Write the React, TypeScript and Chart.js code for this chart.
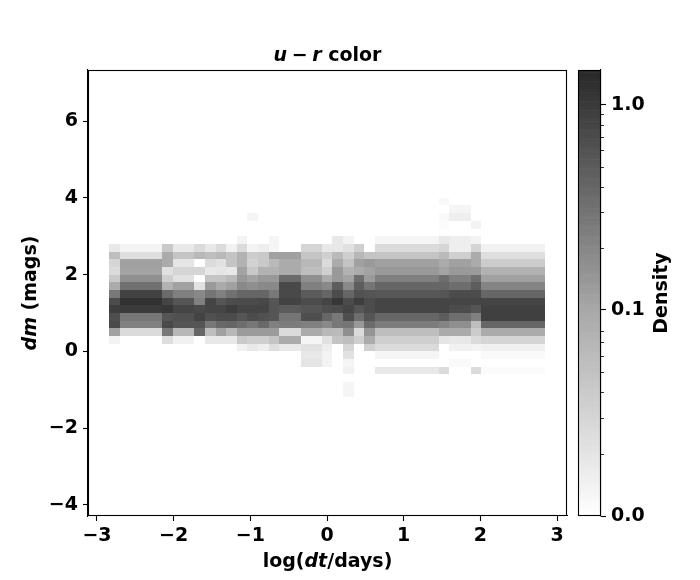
import React, { useEffect, useRef } from "react";
import { Chart, registerables } from "chart.js";

Chart.register(...registerables);

// log(dt/days) bin edges of the density columns
const X_EDGES = [-2.843, -2.7, -2.152, -2.009, -1.735, -1.591, -1.448, -1.317, -1.174, -1.044, -0.9, -0.757, -0.626, -0.339, -0.065, 0.065, 0.209, 0.352, 0.482, 0.626, 1.461, 1.591, 1.878, 2.009, 2.843];
// dm (mags) bin edges, top to bottom
const Y_EDGES = [4.0, 3.8, 3.6, 3.4, 3.2, 3.0, 2.8, 2.6, 2.4, 2.2, 2.0, 1.8, 1.6, 1.4, 1.2, 1.0, 0.8, 0.6, 0.4, 0.2, 0.0, -0.2, -0.4, -0.6, -0.8, -1.0, -1.2];

const X_TICKS = [-3, -2, -1, 0, 1, 2, 3];
const Y_TICKS = [-4, -2, 0, 2, 4, 6];
const CB_TICKS = [0.0, 0.1, 1.0];
const CB_MINOR = [0.03, 0.0474, 0.06, 0.0697, 0.0777, 0.0846, 0.09, 0.2, 0.3, 0.4, 0.5, 0.6, 0.7, 0.8, 0.9];

// density per column (rows from dm = 4.0 down to -1.2)
const COL_01 = [0, 0, 0, 0, 0, 0, 0.027, 0.075, 0.048, 0.041, 0.062, 0.096, 0.275, 0.687, 0.957, 0.665, 0.733, 0.116, 0.014, 0, 0, 0, 0, 0, 0, 0];
const COL_02 = [0, 0, 0, 0, 0, 0, 0.014, 0.038, 0.116, 0.11, 0.169, 0.318, 0.845, 1.19, 1.0, 0.275, 0.232, 0.041, 0, 0, 0, 0, 0, 0, 0, 0];
const COL_03 = [0, 0, 0, 0, 0, 0, 0.062, 0.096, 0.096, 0.034, 0.055, 0.089, 0.361, 0.8, 1.07, 0.577, 0.733, 0.275, 0.038, 0, 0, 0, 0, 0, 0, 0];
const COL_04 = [0, 0, 0, 0, 0, 0, 0.027, 0.068, 0.03, 0.048, 0.034, 0.116, 0.232, 0.577, 0.8, 0.62, 0.577, 0.082, 0.016, 0, 0, 0, 0, 0, 0, 0];
const COL_05 = [0, 0, 0, 0, 0, 0, 0.041, 0.082, 0, 0.048, 0, 0.034, 0.192, 0.232, 0.733, 0.845, 0.577, 0.4, 0, 0, 0, 0, 0, 0, 0, 0];
const COL_06 = [0, 0, 0, 0, 0, 0, 0.027, 0.075, 0.041, 0.027, 0.068, 0.132, 0.295, 0.8, 0.8, 0.62, 0.275, 0.075, 0.027, 0, 0, 0, 0, 0, 0, 0];
const COL_07 = [0, 0, 0, 0, 0, 0, 0.041, 0.082, 0.034, 0.03, 0.068, 0.096, 0.232, 0.577, 0.8, 0.687, 0.38, 0.116, 0.027, 0, 0, 0, 0, 0, 0, 0];
const COL_08 = [0, 0, 0, 0, 0, 0, 0.016, 0.068, 0.068, 0.027, 0.079, 0.116, 0.318, 0.687, 0.957, 0.687, 0.4, 0.082, 0.027, 0, 0, 0, 0, 0, 0, 0];
const COL_09 = [0, 0, 0, 0, 0, 0.014, 0.041, 0.089, 0.089, 0.11, 0.137, 0.192, 0.4, 0.687, 0.8, 0.577, 0.339, 0.132, 0.062, 0.016, 0, 0, 0, 0, 0, 0];
const COL_10 = [0, 0, 0.011, 0, 0, 0, 0.014, 0.059, 0.052, 0.062, 0.11, 0.169, 0.4, 0.687, 0.8, 0.687, 0.275, 0.132, 0.055, 0.027, 0, 0, 0, 0, 0, 0];
const COL_11 = [0, 0, 0, 0, 0, 0, 0.02, 0.062, 0.062, 0.089, 0.137, 0.192, 0.4, 0.76, 0.8, 0.62, 0.38, 0.132, 0.055, 0.02, 0, 0, 0, 0, 0, 0];
const COL_12 = [0, 0, 0, 0, 0, 0.011, 0.011, 0.116, 0.079, 0.089, 0.137, 0.192, 0.275, 0.577, 0.577, 0.577, 0.232, 0.132, 0.068, 0.038, 0, 0, 0, 0, 0, 0];
const COL_13 = [0, 0, 0, 0, 0, 0, 0, 0.116, 0.096, 0.096, 0.361, 0.733, 0.733, 0.845, 0.51, 0.295, 0.253, 0.041, 0.096, 0.027, 0, 0, 0, 0, 0, 0];
const COL_14 = [0, 0, 0, 0, 0, 0, 0.048, 0.068, 0.082, 0.075, 0.169, 0.232, 0.51, 0.687, 0.577, 0.665, 0.232, 0.096, 0.011, 0.034, 0.027, 0.03, 0, 0, 0, 0];
const COL_15 = [0, 0, 0, 0, 0, 0, 0.027, 0.055, 0.041, 0.055, 0.096, 0.192, 0.4, 0.8, 0.665, 0.4, 0.192, 0.082, 0.034, 0.02, 0.014, 0.014, 0, 0, 0, 0];
const COL_16 = [0, 0, 0, 0, 0, 0.027, 0.027, 0.079, 0.096, 0.137, 0.137, 0.49, 0.687, 1.07, 0.687, 0.275, 0.275, 0.079, 0.068, 0, 0, 0, 0, 0, 0, 0];
const COL_17 = [0, 0, 0, 0, 0, 0.014, 0.034, 0.055, 0.068, 0.089, 0.11, 0.192, 0.4, 0.687, 0.8, 0.665, 0.295, 0.169, 0.075, 0.048, 0.034, 0.011, 0.016, 0, 0.011, 0.011];
const COL_18 = [0, 0, 0, 0, 0, 0, 0.055, 0.082, 0.116, 0.096, 0.339, 0.49, 0.62, 0.957, 0.577, 0.339, 0.137, 0.041, 0.055, 0, 0, 0, 0, 0, 0, 0];
const COL_19 = [0, 0, 0, 0, 0, 0, 0, 0.068, 0.137, 0.11, 0.132, 0.295, 0.577, 0.687, 0.687, 0.577, 0.361, 0.15, 0.096, 0.055, 0, 0, 0, 0, 0, 0];
const COL_20 = [0, 0, 0, 0, 0, 0.011, 0.041, 0.068, 0.116, 0.137, 0.232, 0.4, 0.55, 0.8, 0.8, 0.4, 0.253, 0.075, 0.055, 0.041, 0.011, 0, 0.027, 0, 0, 0];
const COL_21 = [0.008, 0, 0.007, 0.005, 0, 0.027, 0.048, 0.079, 0.096, 0.11, 0.339, 0.4, 0.577, 0.8, 0.8, 0.49, 0.213, 0.096, 0.03, 0, 0, 0, 0.041, 0, 0, 0];
const COL_22 = [0, 0.011, 0.02, 0, 0, 0.02, 0.02, 0.055, 0.116, 0.137, 0.232, 0.339, 0.687, 0.8, 0.687, 0.339, 0.169, 0.096, 0.027, 0.016, 0, 0.007, 0, 0, 0, 0];
const COL_23 = [0, 0, 0, 0.014, 0, 0.014, 0.048, 0.096, 0.096, 0.132, 0.339, 0.49, 0.687, 0.8, 0.577, 0.232, 0.075, 0.059, 0.041, 0.014, 0, 0, 0.041, 0, 0, 0];
const COL_24 = [0, 0, 0, 0, 0, 0, 0.016, 0.038, 0.059, 0.089, 0.116, 0.213, 0.4, 0.8, 0.889, 0.889, 0.4, 0.096, 0.048, 0.016, 0.007, 0, 0.005, 0, 0, 0];

const DENSITY = [COL_01, COL_02, COL_03, COL_04, COL_05, COL_06, COL_07, COL_08, COL_09, COL_10, COL_11, COL_12, COL_13, COL_14, COL_15, COL_16, COL_17, COL_18, COL_19, COL_20, COL_21, COL_22, COL_23, COL_24];

const FONT = '"DejaVu Sans", sans-serif';
const FS = 19;

// symmetric-log style normalisation (linear below 0.1)
const LIN = 0.1;
const LIN_FRAC = 0.462;
const DEC_FRAC = 0.4596;
function norm(v: number): number {
  if (v <= LIN) return (v / LIN) * LIN_FRAC;
  return LIN_FRAC + DEC_FRAC * Math.log10(v / LIN);
}
function grey(u: number): string {
  const t = Math.max(0, Math.min(1, u));
  let g: number;
  if (t < LIN_FRAC) g = 255 - 87 * (t / LIN_FRAC);
  else g = 168 - 128 * ((t - LIN_FRAC) / (1 - LIN_FRAC));
  g = Math.round(g);
  return `rgb(${g},${g},${g})`;
}

type Part = string | number;
function drawRich(ctx: CanvasRenderingContext2D, parts: Part[], italics: boolean[], cx: number, cy: number) {
  const fonts = parts.map((p, i) => `${italics[i] ? "italic " : ""}bold ${FS}px ${FONT}`);
  let total = 0;
  const widths = parts.map((p, i) => {
    if (typeof p === "number") return p;
    ctx.font = fonts[i];
    return ctx.measureText(p).width;
  });
  widths.forEach((w) => (total += w));
  let x = cx - total / 2;
  ctx.textAlign = "left";
  ctx.textBaseline = "alphabetic";
  ctx.fillStyle = "#000";
  parts.forEach((p, i) => {
    if (typeof p === "string") {
      ctx.font = fonts[i];
      ctx.fillText(p, x, cy);
    }
    x += widths[i];
  });
}

const fmt = (v: number) => (v < 0 ? "\u2212" + Math.abs(v) : String(v));

export default function App() {
  const mainRef = useRef<HTMLCanvasElement>(null);
  const cbRef = useRef<HTMLCanvasElement>(null);

  useEffect(() => {
    document.body.style.margin = "0";
    const heatPlugin = {
      id: "heat",
      beforeDatasetsDraw(chart: any) {
        const { ctx, chartArea } = chart;
        const xs = chart.scales.x;
        const ys = chart.scales.y;
        ctx.save();
        ctx.beginPath();
        ctx.rect(chartArea.left, chartArea.top, chartArea.right - chartArea.left, chartArea.bottom - chartArea.top);
        ctx.clip();
        for (let c = 0; c < DENSITY.length; c++) {
          const x0 = Math.round(xs.getPixelForValue(X_EDGES[c]));
          const x1 = Math.round(xs.getPixelForValue(X_EDGES[c + 1]));
          const col = DENSITY[c];
          for (let r = 0; r < col.length; r++) {
            const v = col[r];
            if (!(v > 0)) continue;
            const y0 = Math.round(ys.getPixelForValue(Y_EDGES[r]));
            const y1 = Math.round(ys.getPixelForValue(Y_EDGES[r + 1]));
            ctx.fillStyle = grey(norm(v));
            ctx.fillRect(x0, y0, x1 - x0, y1 - y0);
          }
        }
        ctx.restore();
      },
      afterDraw(chart: any) {
        const { ctx, chartArea } = chart;
        ctx.save();
        ctx.strokeStyle = "#000";
        ctx.lineWidth = 1.1;
        ctx.strokeRect(chartArea.left + 0.5, chartArea.top + 0.5, chartArea.right - chartArea.left - 1, chartArea.bottom - chartArea.top - 1);
        const cx = (chartArea.left + chartArea.right) / 2;
        drawRich(ctx, ["u", 4.6, "\u2212", 4.6, "r", " color"], [true, false, false, false, true, false], cx, 61);
        drawRich(ctx, ["log(", "dt", "/days)"], [false, true, false], cx, 567);
        ctx.save();
        ctx.translate(36, (chartArea.top + chartArea.bottom) / 2);
        ctx.rotate(-Math.PI / 2);
        drawRich(ctx, ["dm", " (mags)"], [true, false], 0, 0);
        ctx.restore();
        ctx.restore();
      },
    };

    const tickFont = { family: FONT, size: FS, weight: "bold" as const };

    const main = new Chart(mainRef.current!, {
      type: "scatter",
      data: { datasets: [{ data: [] }] },
      plugins: [heatPlugin],
      options: {
        animation: false,
        responsive: false,
        events: [],
        layout: { padding: { left: 0, top: 70, right: 133, bottom: 0 } },
        plugins: { legend: { display: false }, tooltip: { enabled: false }, title: { display: false } },
        scales: {
          x: {
            type: "linear",
            min: -3.117,
            max: 3.13,
            afterBuildTicks: (axis: any) => {
              axis.ticks = X_TICKS.map((v) => ({ value: v }));
            },
            afterFit: (axis: any) => {
              axis.height = 64;
            },
            ticks: { font: tickFont, color: "#000", padding: 4, autoSkip: false, maxRotation: 0, callback: (v: any) => fmt(Number(v)) },
            grid: { drawOnChartArea: false, tickLength: 5, color: "#000", tickWidth: 1.1 },
            border: { display: true, color: "#000", width: 1.1 },
          },
          y: {
            type: "linear",
            min: -4.29,
            max: 7.33,
            afterBuildTicks: (axis: any) => {
              axis.ticks = Y_TICKS.map((v) => ({ value: v }));
            },
            afterFit: (axis: any) => {
              axis.width = 88;
            },
            ticks: { font: tickFont, color: "#000", padding: 5, autoSkip: false, callback: (v: any) => fmt(Number(v)) },
            grid: { drawOnChartArea: false, tickLength: 5, color: "#000", tickWidth: 1.1 },
            border: { display: true, color: "#000", width: 1.1 },
          },
        },
      },
    });

    const cbPlugin = {
      id: "cbar",
      beforeDatasetsDraw(chart: any) {
        const { ctx, chartArea } = chart;
        const ys = chart.scales.y;
        const N = 200;
        ctx.save();
        for (let i = 0; i < N; i++) {
          const yA = ys.getPixelForValue(i / N);
          const yB = ys.getPixelForValue((i + 1) / N);
          ctx.fillStyle = grey((i + 0.5) / N);
          ctx.fillRect(chartArea.left, yB, chartArea.right - chartArea.left, yA - yB + 0.6);
        }
        ctx.restore();
      },
      afterDraw(chart: any) {
        const { ctx, chartArea } = chart;
        const ys = chart.scales.y;
        ctx.save();
        ctx.strokeStyle = "#000";
        ctx.lineWidth = 1.1;
        ctx.strokeRect(chartArea.left + 0.5, chartArea.top + 0.5, chartArea.right - chartArea.left - 1, chartArea.bottom - chartArea.top - 1);
        ctx.lineWidth = 0.8;
        CB_MINOR.forEach((v) => {
          const py = Math.round(ys.getPixelForValue(norm(v))) + 0.5;
          ctx.beginPath();
          ctx.moveTo(chartArea.right, py);
          ctx.lineTo(chartArea.right + 3, py);
          ctx.stroke();
        });
        ctx.translate(667, (chartArea.top + chartArea.bottom) / 2);
        ctx.rotate(-Math.PI / 2);
        drawRich(ctx, ["Density"], [false], 0, 0);
        ctx.restore();
      },
    };

    const cb = new Chart(cbRef.current!, {
      type: "scatter",
      data: { datasets: [{ data: [] }] },
      plugins: [cbPlugin],
      options: {
        animation: false,
        responsive: false,
        events: [],
        layout: { padding: { left: 578, top: 70, right: 0, bottom: 64 } },
        plugins: { legend: { display: false }, tooltip: { enabled: false } },
        scales: {
          x: { type: "linear", display: false, min: 0, max: 1 },
          y: {
            type: "linear",
            position: "right",
            min: 0,
            max: 1,
            afterBuildTicks: (axis: any) => {
              axis.ticks = CB_TICKS.map((v) => ({ value: norm(v) }));
            },
            afterFit: (axis: any) => {
              axis.width = 99;
            },
            ticks: {
              font: tickFont,
              color: "#000",
              padding: 5,
              autoSkip: false,
              callback: (val: any) => {
                const t = CB_TICKS.find((c) => Math.abs(norm(c) - Number(val)) < 1e-6);
                return t === undefined ? "" : t.toFixed(1);
              },
            },
            grid: { drawOnChartArea: false, tickLength: 5, color: "#000", tickWidth: 1.1 },
            border: { display: true, color: "#000", width: 1.1 },
          },
        },
      },
    });

    return () => {
      main.destroy();
      cb.destroy();
    };
  }, []);

  return (
    <div style={{ position: "relative", width: 700, height: 580, background: "#fff" }}>
      <canvas ref={mainRef} width={700} height={580} style={{ position: "absolute", left: 0, top: 0 }} />
      <canvas ref={cbRef} width={700} height={580} style={{ position: "absolute", left: 0, top: 0 }} />
    </div>
  );
}
